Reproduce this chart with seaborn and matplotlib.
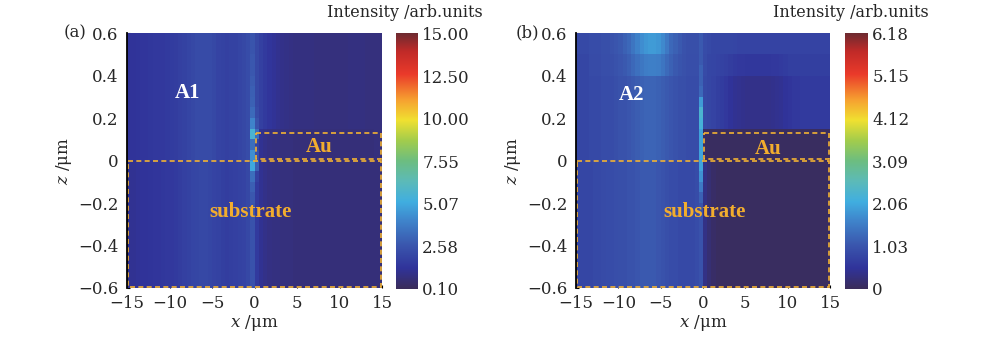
import numpy as np
import pandas as pd
import matplotlib
matplotlib.use("Agg")
import matplotlib.pyplot as plt
from matplotlib.colors import LinearSegmentedColormap
from matplotlib.patches import Rectangle
import seaborn as sns

sns.set_theme(style="white")
plt.rcParams['font.family'] = ['DejaVu Serif']
plt.rcParams['mathtext.fontset'] = 'dejavuserif'

# grid: 60 columns of 0.5 um (x -15..15), 24 rows of 0.05 um (z 0.6..-0.6)
X_MIN, X_STEP = -15.0, 0.5
Z_MAX, Z_STEP = 0.6, 0.05
X_COLS = np.arange(-14.75, 15.0, 0.5)
Z_ROWS = np.round(np.arange(0.575, -0.6, -0.05), 3)

X_TICKS = [-15, -10, -5, 0, 5, 10, 15]
Z_TICKS = [0.6, 0.4, 0.2, 0, -0.2, -0.4, -0.6]
Z_TICK_LABELS = ["0.6", "0.4", "0.2", "0", "\u22120.2", "\u22120.4", "\u22120.6"]

AU_BOX = (0.0, 15.0, 0.0, 0.13)      # x0, x1, z0, z1
SUB_BOX = (-15.0, 15.0, -0.6, 0.0)

# ---- panel (a): A1, scale 0.10 - 15.00 ----
a_top = [1.3, 1.3, 1.35, 1.4, 1.4, 1.45, 1.5, 1.5, 1.55, 1.6, 1.65, 1.7,
         1.8, 1.9, 2.0, 2.1, 2.2, 2.25, 2.25, 2.2, 2.1, 1.95, 1.85, 1.8,
         1.85, 1.9, 2.0, 2.1, 2.3, 2.6,
         2.1, 1.8, 1.6, 1.4, 1.25, 1.1,
         1.0, 0.95, 0.9, 0.85, 0.8, 0.8, 0.8, 0.8, 0.75, 0.75, 0.75, 0.75,
         0.75, 0.75, 0.75, 0.75, 0.8, 0.8, 0.8, 0.8, 0.75, 0.75, 0.75, 0.75]
a_au = [1.3, 1.3, 1.35, 1.4, 1.4, 1.45, 1.5, 1.5, 1.55, 1.6, 1.65, 1.7,
        1.8, 1.9, 2.0, 2.1, 2.2, 2.25, 2.25, 2.2, 2.1, 1.95, 1.85, 1.8,
        1.85, 1.9, 2.0, 2.1, 2.3, 2.6,
        1.6, 1.2, 1.0, 0.9, 0.85, 0.8,
        0.75, 0.75, 0.75, 0.72, 0.72, 0.72, 0.72, 0.72, 0.72, 0.72, 0.72, 0.72,
        0.72, 0.72, 0.72, 0.72, 0.72, 0.72, 0.72, 0.72, 0.72, 0.72, 0.75, 0.75]
a_sub = [1.2, 1.2, 1.25, 1.3, 1.3, 1.35, 1.4, 1.4, 1.45, 1.5, 1.55, 1.6,
         1.7, 1.8, 1.9, 2.0, 2.05, 2.1, 2.1, 2.05, 1.95, 1.85, 1.75, 1.7,
         1.75, 1.8, 1.85, 1.95, 2.1, 2.5,
         1.6, 1.2, 1.0, 0.9, 0.85, 0.8,
         0.75, 0.75, 0.75, 0.72, 0.72, 0.72, 0.72, 0.72, 0.72, 0.72, 0.72, 0.72,
         0.72, 0.72, 0.72, 0.72, 0.72, 0.72, 0.72, 0.72, 0.72, 0.72, 0.72, 0.72]
a_rows = ["top"] * 9 + ["au"] * 3 + ["sub"] * 12
# column just left of x = 0 (hot spots at the Au corners)
a_line = [2.6, 2.6, 2.7, 2.7, 2.8, 2.9, 3.0, 3.3, 4.0,
          5.6, 3.4, 4.4, 5.0, 3.4, 2.9, 2.7,
          2.6, 2.5, 2.5, 2.5, 2.5, 2.5, 2.5, 2.5]
a_line_right = [2.1, 2.1, 2.1, 2.1, 2.1, 2.1, 2.1, 2.2, 2.5,
                3.4, 1.9, 2.4, 2.9, 1.8, 1.6, 1.6,
                1.6, 1.6, 1.6, 1.6, 1.6, 1.6, 1.6, 1.6]
a_ticks = [0.10, 2.58, 5.07, 7.55, 10.00, 12.50, 15.00]
a_tick_labels = ["0.10", "2.58", "5.07", "7.55", "10.00", "12.50", "15.00"]

# ---- panel (b): A2, scale 0 - 6.18 ----
b_top = [0.85, 0.85, 0.85, 0.9, 0.9, 0.9, 0.95, 0.95, 1.0, 1.05, 1.1, 1.2,
         1.3, 1.45, 1.6, 1.75, 1.85, 1.9, 1.9, 1.85, 1.7, 1.5, 1.3, 1.2,
         1.1, 1.0, 0.95, 0.95, 0.95, 1.1,
         0.9, 0.85, 0.8, 0.8, 0.8, 0.8,
         0.8, 0.78, 0.75, 0.75, 0.75, 0.75, 0.75, 0.75, 0.75, 0.75, 0.75, 0.75,
         0.75, 0.75, 0.75, 0.75, 0.75, 0.75, 0.75, 0.75, 0.75, 0.75, 0.75, 0.75]
b_upper = [0.82, 0.82, 0.82, 0.87, 0.87, 0.87, 0.92, 0.92, 0.95, 1.0, 1.05, 1.1,
           1.18, 1.28, 1.38, 1.48, 1.55, 1.58, 1.58, 1.55, 1.45, 1.32, 1.2, 1.1,
           1.02, 0.98, 0.92, 0.92, 0.92, 1.05,
           0.88, 0.82, 0.78, 0.76, 0.74, 0.72,
           0.66, 0.62, 0.6, 0.58, 0.56, 0.56, 0.56, 0.56, 0.56, 0.56, 0.58, 0.6,
           0.62, 0.65, 0.68, 0.7, 0.7, 0.7, 0.7, 0.7, 0.7, 0.7, 0.7, 0.7]
b_mid = [0.8, 0.8, 0.8, 0.85, 0.85, 0.85, 0.9, 0.9, 0.9, 0.95, 1.0, 1.0,
         1.05, 1.1, 1.15, 1.2, 1.25, 1.25, 1.25, 1.2, 1.15, 1.1, 1.05, 1.0,
         0.95, 0.95, 0.9, 0.9, 0.9, 1.0,
         0.85, 0.8, 0.75, 0.7, 0.65, 0.6,
         0.5, 0.45, 0.42, 0.4, 0.38, 0.38, 0.38, 0.38, 0.38, 0.38, 0.4, 0.42,
         0.45, 0.5, 0.55, 0.6, 0.6, 0.62, 0.62, 0.62, 0.62, 0.62, 0.62, 0.62]
b_au = [0.8, 0.8, 0.8, 0.85, 0.85, 0.85, 0.9, 0.9, 0.9, 0.95, 1.0, 1.0,
        1.05, 1.1, 1.15, 1.2, 1.25, 1.25, 1.25, 1.2, 1.15, 1.1, 1.05, 1.0,
        0.95, 0.95, 0.9, 0.9, 0.9, 1.0,
        0.08, 0.06, 0.05, 0.05, 0.05, 0.05,
        0.05, 0.05, 0.05, 0.05, 0.05, 0.05, 0.05, 0.05, 0.05, 0.05, 0.05, 0.05,
        0.05, 0.05, 0.05, 0.05, 0.05, 0.05, 0.05, 0.05, 0.05, 0.05, 0.05, 0.05]
b_sub = [0.8, 0.8, 0.8, 0.82, 0.85, 0.85, 0.88, 0.9, 0.9, 0.92, 0.95, 0.95,
         1.0, 1.0, 1.05, 1.1, 1.1, 1.1, 1.1, 1.05, 1.0, 0.95, 0.9, 0.9,
         0.85, 0.85, 0.85, 0.85, 0.9, 1.0,
         0.35, 0.2, 0.1, 0.06, 0.05, 0.05,
         0.05, 0.05, 0.05, 0.05, 0.05, 0.05, 0.05, 0.05, 0.05, 0.05, 0.05, 0.05,
         0.05, 0.05, 0.05, 0.05, 0.05, 0.05, 0.05, 0.05, 0.05, 0.05, 0.05, 0.05]
b_rows = ["top"] * 2 + ["upper"] * 2 + ["mid"] * 5 + ["au"] * 3 + ["sub"] * 12
b_line = [1.1, 1.1, 1.1, 1.2, 1.2, 1.3, 1.9, 2.3, 2.2,
          2.0, 2.0, 2.0, 2.0, 1.8, 1.5, 1.2,
          1.0, 1.0, 1.0, 1.0, 1.0, 1.0, 1.0, 1.0]
b_ticks = [0, 1.03, 2.06, 3.09, 4.12, 5.15, 6.18]
b_tick_labels = ["0", "1.03", "2.06", "3.09", "4.12", "5.15", "6.18"]

CMAP_COLORS = [(0.00, "#3a2c5a"), (0.08, "#30339a"), (0.17, "#3a56ad"),
               (0.27, "#3f86cc"), (0.34, "#40aee0"), (0.42, "#5cbab8"),
               (0.50, "#6cbd80"), (0.58, "#a2cc4c"), (0.66, "#f0e030"),
               (0.74, "#f6a030"), (0.84, "#ea3a2a"), (0.93, "#c02a28"),
               (1.00, "#6e2a30")]
cmap = LinearSegmentedColormap.from_list("field", CMAP_COLORS)

BOX_COLOR = "#f2b233"
LABEL_COLOR = "#f2ad2e"
FS = 12


def to_idx(x, z):
    return (x - X_MIN) / X_STEP, (Z_MAX - z) / Z_STEP


def build(profiles, rows, lines):
    m = np.array([profiles[r] for r in rows], dtype=float)
    for col, vals in lines:
        m[:, col] = vals
    return pd.DataFrame(m, index=Z_ROWS, columns=X_COLS)


def draw_panel(ax, cax, df, vmin, vmax, ticks, tick_labels, name, pos):
    sns.heatmap(df, ax=ax, cmap=cmap, vmin=vmin, vmax=vmax, cbar_ax=cax,
                xticklabels=False, yticklabels=False)
    ax.set_xticks([to_idx(x, 0)[0] for x in X_TICKS])
    ax.set_xticklabels([str(x).replace("-", "\u2212") for x in X_TICKS])
    ax.set_yticks([to_idx(0, z)[1] for z in Z_TICKS])
    ax.set_yticklabels(Z_TICK_LABELS, rotation=0)
    ax.tick_params(axis="both", labelsize=FS, length=2.5, direction="in",
                   width=0.8, color="black", left=True, bottom=True)
    ax.tick_params(axis="x", pad=5)
    ax.tick_params(axis="y", pad=6)
    ax.set_xlabel("$x$ /\u03bcm", fontsize=FS, labelpad=1)
    ax.set_ylabel("$z$ /\u03bcm", fontsize=FS, labelpad=3)
    ax.spines["left"].set_visible(True)
    ax.spines["left"].set_color("black")
    ax.spines["left"].set_linewidth(1.3)

    # region outlines
    for (x0, x1, z0, z1) in (AU_BOX, SUB_BOX):
        c0, r1 = to_idx(x0, z1)
        c1, r0 = to_idx(x1, z0)
        ax.add_patch(Rectangle((c0 + 0.25, r1 + 0.05), c1 - c0 - 0.5,
                               r0 - r1 - 0.15, fill=False, edgecolor=BOX_COLOR,
                               linewidth=1.2, linestyle=(0, (3, 2))))

    for key, text, color in (("name", name, "white"), ("au", "Au", LABEL_COLOR),
                             ("sub", "substrate", LABEL_COLOR)):
        tx, tz = pos[key]
        ax.text(*to_idx(tx, tz), text, color=color, fontsize=15, fontweight="bold",
                family="Liberation Serif", ha="center", va="center")

    cb = ax.collections[0].colorbar
    cb.set_ticks(ticks)
    cb.set_ticklabels(tick_labels)
    cb.outline.set_visible(False)
    cax.tick_params(length=0, labelsize=FS, pad=3)


df_a = build({"top": a_top, "au": a_au, "sub": a_sub}, a_rows,
             [(29, a_line), (30, a_line_right)])
df_b = build({"top": b_top, "upper": b_upper, "mid": b_mid, "au": b_au,
              "sub": b_sub}, b_rows, [(29, b_line)])

fig = plt.figure(figsize=(10, 3.38), dpi=100)
ax_a = fig.add_axes([0.127, 0.148, 0.255, 0.754])
cax_a = fig.add_axes([0.396, 0.145, 0.022, 0.757])
ax_b = fig.add_axes([0.576, 0.148, 0.254, 0.754])
cax_b = fig.add_axes([0.845, 0.145, 0.023, 0.757])

draw_panel(ax_a, cax_a, df_a, 0.10, 15.00, a_ticks, a_tick_labels, "A1",
           {"name": (-7.9, 0.32), "au": (7.6, 0.064), "sub": (-0.5, -0.24)})
draw_panel(ax_b, cax_b, df_b, 0.0, 6.18, b_ticks, b_tick_labels, "A2",
           {"name": (-8.4, 0.31), "au": (7.7, 0.054), "sub": (0.2, -0.24)})

fig.text(0.075, 0.902, "(a)", fontsize=FS, ha="center", va="center")
fig.text(0.527, 0.902, "(b)", fontsize=FS, ha="center", va="center")
fig.text(0.405, 0.962, "Intensity /arb.units", fontsize=11.5, ha="center", va="center")
fig.text(0.851, 0.962, "Intensity /arb.units", fontsize=11.5, ha="center", va="center")

fig.savefig("out.png", dpi=100)
